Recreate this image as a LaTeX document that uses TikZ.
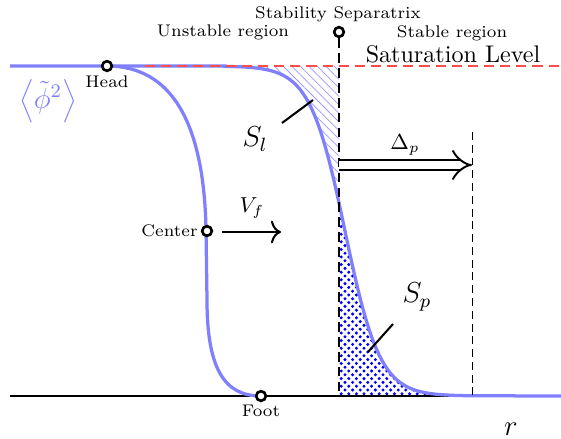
\documentclass[tikz,border=0pt]{standalone}
\usetikzlibrary{arrows.meta,patterns.meta}
\begin{document}
\begin{tikzpicture}[x=0.415pt,y=-0.415pt,
  curve/.style={draw=blue!50, line width=1.35pt},
  dotc/.style={circle, draw=black, fill=white, line width=1.1pt, inner sep=0pt, minimum size=4.0pt},
  lbl/.style={font=\scriptsize, inner sep=0pt},
  ptr/.style={line width=0.85pt},
  sepline/.style={line width=1.2pt, dash pattern=on 4pt off 2.2pt},
  thindash/.style={line width=0.4pt, dash pattern=on 3.3pt off 2pt},
  satline/.style={red!70, line width=1.2pt, dash pattern=on 4.2pt off 2.5pt},
]
\useasboundingbox (0,0) rectangle (561,439);

% hatched region S_l
\fill[pattern={Lines[angle=-45,distance=2.5pt,line width=0.3pt]}, pattern color=blue!40]
  (225,66) -- plot[domain=225:339,samples=60] (\x,{66+330/(1+exp(-(\x-345)/17.5))}) -- (339,66) -- cycle;

% dotted region S_p
\begin{scope}
\clip (339,396) -- plot[domain=339:470,samples=80] (\x,{66+330/(1+exp(-(\x-345)/17.5))}) -- (470,396) -- cycle;
\foreach \i in {0,...,17} {
  \foreach \j in {0,...,26} {
    \fill[blue] (339+\i*7.6+2.2, 396-\j*7.6-2.2) circle (0.7pt);
    \fill[blue] (339+\i*7.6+6, 396-\j*7.6-6) circle (0.7pt);
  }
}
\end{scope}

% axis
\coordinate (ax0) at (10,396);
\coordinate (ax1) at (530,396);
\draw[line width=0.9pt] (ax0) -- (ax1);

% curves
\draw[curve] (10,66) -- (225,66) -- plot[domain=225:470,samples=120] (\x,{66+330/(1+exp(-(\x-345)/17.5))}) -- (561,396);
\draw[curve] (107,66) .. controls (170,66) and (204,120) .. (206,230) -- (207,300) .. controls (207,370) and (225,396) .. (261,396);

% saturation level
\coordinate (sat0) at (145,66);
\coordinate (sat1) at (561,66);
\draw[satline] (sat0) -- (sat1);

% separatrix
\node[dotc] (sep) at (339,32) {};
\coordinate (sepbot) at (339,396);
\draw[sepline] (sep.south) -- (sepbot);

% Delta_p
\coordinate (dtop) at (472,132);
\coordinate (dbot) at (472,396);
\draw[thindash] (dtop) -- (dbot);
\coordinate (dA) at (339,165);
\coordinate (dB) at (472,165);
\draw[double, double distance=3.6pt, line width=0.8pt, -{Implies[scale=1.4]}] (dA) -- (dB);
\node (dlbl) at (405,145) {\small$\Delta_p$};

% V_f
\coordinate (vA) at (222,232);
\coordinate (vB) at (281,232);
\draw[ptr, -{To[length=4.2pt,width=9.5pt]}] (vA) -- (vB);
\node (vlbl) at (252,208) {\small$V_f$};

% pointers
\coordinate (sl0) at (282,123);
\coordinate (sl1) at (313,100);
\draw[ptr] (sl0) -- (sl1);
\node (sllbl) at (255,139) {\large$S_l$};
\coordinate (sp0) at (393,324);
\coordinate (sp1) at (368,352);
\draw[ptr] (sp0) -- (sp1);
\node (splbl) at (417,297) {\large$S_p$};

% markers
\node[dotc] (head) at (107,66) {};
\node[dotc] (center) at (207,231) {};
\node[dotc] (foot) at (261,396) {};

% labels
\node[lbl] (headl) at (107,82) {Head};
\node[lbl, anchor=east] (centerl) at (198,231) {Center};
\node[lbl] (footl) at (261,411) {Foot};
\node[lbl] (sepl) at (338,14) {Stability Separatrix};
\node[lbl] (unst) at (223,32) {Unstable region};
\node[lbl] (stab) at (452,33) {Stable region};
\node (satl) at (453,54) {Saturation Level};
\node[text=blue!50] (phil) at (48,101) {\large$\Big\langle \tilde{\phi}^{2} \Big\rangle$};
\node (rl) at (511,429) {\large$r$};
\end{tikzpicture}
\end{document}
